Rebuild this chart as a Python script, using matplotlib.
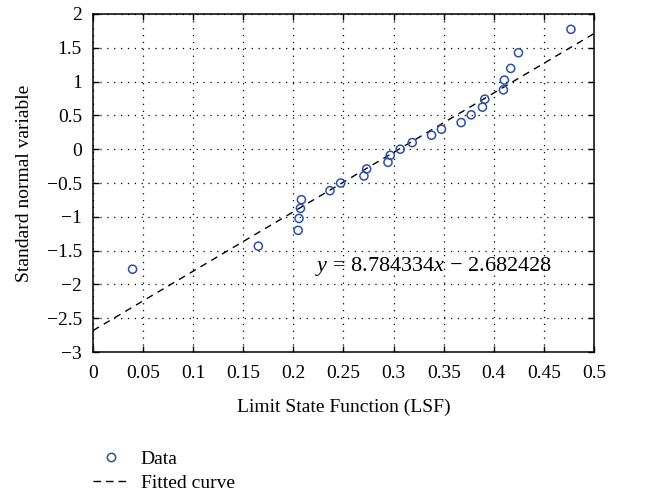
import matplotlib
matplotlib.use("Agg")
import matplotlib.pyplot as plt
import numpy as np
from matplotlib.lines import Line2D

plt.rcParams['font.family'] = ['Liberation Serif', 'DejaVu Serif']
plt.rcParams['mathtext.fontset'] = 'custom'
plt.rcParams['mathtext.rm'] = 'Liberation Serif'
plt.rcParams['mathtext.it'] = 'Liberation Serif:italic'
plt.rcParams['axes.unicode_minus'] = True

# Data
lsf = [0.0395, 0.165, 0.2047, 0.2056, 0.207, 0.208, 0.2365, 0.2472, 0.2704, 0.2731,
       0.2944, 0.2967, 0.3066, 0.3186, 0.3379, 0.3478, 0.3674, 0.3774, 0.3887, 0.391,
       0.4096, 0.4106, 0.4169, 0.4246, 0.477]
snv = [-1.775, -1.434, -1.20, -1.024, -0.875, -0.747, -0.614, -0.50, -0.396, -0.292,
       -0.194, -0.09, 0.0, 0.098, 0.207, 0.295, 0.394, 0.508, 0.622, 0.74,
       0.878, 1.022, 1.195, 1.427, 1.773]
slope = 8.784334
intercept = -2.682428
xticks = [0, 0.05, 0.1, 0.15, 0.2, 0.25, 0.3, 0.35, 0.4, 0.45, 0.5]
xticklabels = ['0', '0.05', '0.1', '0.15', '0.2', '0.25', '0.3', '0.35', '0.4', '0.45', '0.5']
yticks = [2, 1.5, 1, 0.5, 0, -0.5, -1, -1.5, -2, -2.5, -3]
yticklabels = ['2', '1.5', '1', '0.5', '0', '\u22120.5', '\u22121', '\u22121.5', '\u22122', '\u22122.5', '\u22123']

fig = plt.figure(figsize=(6.45, 4.94), dpi=100)
ax = fig.add_axes([0.1442, 0.2874, 0.9209 - 0.1442, 0.9717 - 0.2874])

xl = np.array([0.0, 0.5])
ax.plot(xl, slope * xl + intercept, color='black', linestyle=(0, (5, 4)), linewidth=1.0, zorder=2)
ax.scatter(lsf, snv, s=34, facecolors='none', edgecolors='#2d4fa8', linewidths=1.1, zorder=3)

ax.set_xlim(0, 0.5)
ax.set_ylim(-3, 2)
ax.set_xticks(xticks)
ax.set_xticklabels(xticklabels)
ax.set_yticks(yticks)
ax.set_yticklabels(yticklabels)
ax.tick_params(direction='in', top=True, right=True, length=4, width=1, labelsize=14)
ax.tick_params(axis='x', pad=9)
ax.tick_params(axis='y', pad=8)
ax.grid(True, color='black', linestyle=(0, (1, 4.5)), linewidth=0.9)
for s in ax.spines.values():
    s.set_linewidth(1.1)

ax.set_xlabel('Limit State Function (LSF)', fontsize=14, labelpad=12)
ax.set_ylabel('Standard normal variable', fontsize=14, labelpad=10)

ax.text(0.222, -1.74, r'$y$ = 8.784334$x$ ' + '\u2212' + ' 2.682428',
        fontsize=16, va='center', ha='left')

handles = [Line2D([], [], marker='o', linestyle='none', markerfacecolor='none',
                  markeredgecolor='#2d4fa8', markersize=6, markeredgewidth=1.1),
           Line2D([], [], color='black', linestyle=(0, (5.5, 3.5)), linewidth=1.0)]
fig.legend(handles, ['Data', 'Fitted curve'], loc='upper left', bbox_to_anchor=(0.144, 0.088),
           frameon=False, fontsize=14, handlelength=1.85, handletextpad=0.6, labelspacing=0.3,
           borderaxespad=0, borderpad=0)

fig.savefig('out.png', dpi=100)
